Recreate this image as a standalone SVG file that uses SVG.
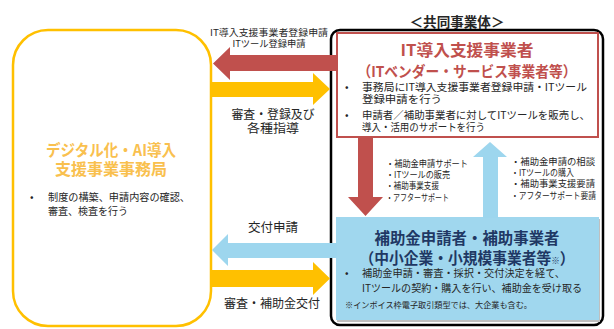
<svg xmlns="http://www.w3.org/2000/svg" width="614" height="329" viewBox="0 0 614 329">
<style>
text{font-family:"Noto Sans CJK JP","Noto Sans",sans-serif;fill:#262626}
.b{font-weight:bold}
.m{text-anchor:middle}
.red{fill:#C0504D}
.yel{fill:#FFC000}
.blu{fill:#9DD6EE}
.lt{font-size:12.5px}
.sm{font-size:9.5px}
.xs{font-size:9.3px}
.bul{font-size:10.5px}
</style>
<rect width="614" height="329" fill="#ffffff"/>
<g id="office">
<rect x="13" y="30" width="198" height="296" rx="35" fill="#ffffff" stroke="#FFC000" stroke-width="2.5"/>
<text class="b m" x="111" y="156" font-size="16" style="fill:#F9C04E" textLength="130" lengthAdjust="spacingAndGlyphs">デジタル化・AI導入</text>
<text class="b m" x="111" y="174.5" font-size="16" style="fill:#F9C04E" textLength="112" lengthAdjust="spacingAndGlyphs">支援事業事務局</text>
<text x="30" y="201" font-size="10.5">•</text>
<text x="48" y="201" font-size="10.5" textLength="142" lengthAdjust="spacingAndGlyphs">制度の構築、申請内容の確認、</text>
<text x="48" y="215" font-size="10.5" textLength="80" lengthAdjust="spacingAndGlyphs">審査、検査を行う</text>
</g>
<g id="consortium">
<rect x="331" y="30" width="272" height="295" rx="9" fill="#ffffff" stroke="#000000" stroke-width="2.5"/>
<text class="b m" x="457" y="27" font-size="13.5" textLength="95" lengthAdjust="spacingAndGlyphs">＜共同事業体＞</text>
</g>
<g id="vendor">
<rect x="337" y="33" width="261" height="104" fill="#ffffff" stroke="#C0504D" stroke-width="2"/>
<text class="b m red" x="467" y="56" font-size="16" textLength="133" lengthAdjust="spacingAndGlyphs">IT導入支援事業者</text>
<text class="b m red" x="467" y="76.5" font-size="15" textLength="219" lengthAdjust="spacingAndGlyphs">（ITベンダー・サービス事業者等）</text>
<text class="bul" x="345" y="91">•</text>
<text class="bul" x="362" y="91" textLength="225" lengthAdjust="spacingAndGlyphs">事務局にIT導入支援事業者登録申請・ITツール</text>
<text class="bul" x="362" y="103" textLength="80" lengthAdjust="spacingAndGlyphs">登録申請を行う</text>
<text class="bul" x="345" y="119">•</text>
<text class="bul" x="362" y="119" textLength="228" lengthAdjust="spacingAndGlyphs">申請者／補助事業者に対してITツールを販売し、</text>
<text class="bul" x="362" y="131" textLength="123" lengthAdjust="spacingAndGlyphs">導入・活用のサポートを行う</text>
</g>
<g id="applicant">
<rect x="337" y="219" width="263" height="103" fill="#BFBFBF"/>
<rect x="336" y="217" width="263" height="103" fill="#A0D7EE"/>
<text class="b m" x="467" y="244" font-size="15.5" style="fill:#1F3864" textLength="185" lengthAdjust="spacingAndGlyphs">補助金申請者・補助事業者</text>
<text class="b m" x="467" y="264" font-size="15.5" style="fill:#1F3864" textLength="215" lengthAdjust="spacingAndGlyphs">（中小企業・小規模事業者等<tspan font-size="9">※</tspan>）</text>
<text class="bul" x="345" y="277">•</text>
<text class="bul" x="362" y="277" textLength="203" lengthAdjust="spacingAndGlyphs">補助金申請・審査・採択・交付決定を経て、</text>
<text class="bul" x="362" y="291.5" textLength="220" lengthAdjust="spacingAndGlyphs">ITツールの契約・購入を行い、補助金を受け取る</text>
<text x="345" y="308" font-size="8.5" textLength="187" lengthAdjust="spacingAndGlyphs">※インボイス枠電子取引類型では、大企業も含む。</text>
</g>
<g id="connectors">
<polygon class="red" points="338,55 230,55 230,47 213,63.5 230,80 230,71 338,71"/>
<polygon class="yel" points="211,82 313,82 313,73 330,89 313,105 313,97 211,97"/>
<polygon class="blu" points="337,243 228,243 228,234 212,250 228,266 228,258 337,258"/>
<polygon class="yel" points="211,270 313,270 313,262 330,278.5 313,295 313,287 211,287"/>
<polygon class="red" points="358,137 373,137 373,197 383,197 365.5,216 348,197 358,197"/>
<polygon class="blu" points="483,218 498,218 498,157 507,157 490,142 473,157 483,157"/>
<text class="m sm" x="269" y="35.5" textLength="118" lengthAdjust="spacingAndGlyphs">IT導入支援事業者登録申請</text>
<text class="m sm" x="269" y="46.5" textLength="73" lengthAdjust="spacingAndGlyphs">ITツール登録申請</text>
<text class="m lt" x="273" y="118.5" textLength="83" lengthAdjust="spacingAndGlyphs">審査・登録及び</text>
<text class="m lt" x="273" y="133" textLength="52" lengthAdjust="spacingAndGlyphs">各種指導</text>
<text class="m lt" x="273" y="232" textLength="50" lengthAdjust="spacingAndGlyphs">交付申請</text>
<text class="m lt" x="272" y="308" textLength="96" lengthAdjust="spacingAndGlyphs">審査・補助金交付</text>
<text class="xs" x="386" y="167.4" textLength="82" lengthAdjust="spacingAndGlyphs">・補助金申請サポート</text>
<text class="xs" x="386" y="178.4" textLength="64" lengthAdjust="spacingAndGlyphs">・ITツールの販売</text>
<text class="xs" x="386" y="189.4" textLength="53" lengthAdjust="spacingAndGlyphs">・補助事業支援</text>
<text class="xs" x="386" y="201.4" textLength="63" lengthAdjust="spacingAndGlyphs">・アフターサポート</text>
<text class="xs" x="511" y="165" textLength="84" lengthAdjust="spacingAndGlyphs">・補助金申請の相談</text>
<text class="xs" x="511" y="176.4" textLength="63" lengthAdjust="spacingAndGlyphs">・ITツールの購入</text>
<text class="xs" x="511" y="187.4" textLength="84" lengthAdjust="spacingAndGlyphs">・補助事業支援要請</text>
<text class="xs" x="511" y="198.6" textLength="85" lengthAdjust="spacingAndGlyphs">・アフターサポート要請</text>
</g>
</svg>
